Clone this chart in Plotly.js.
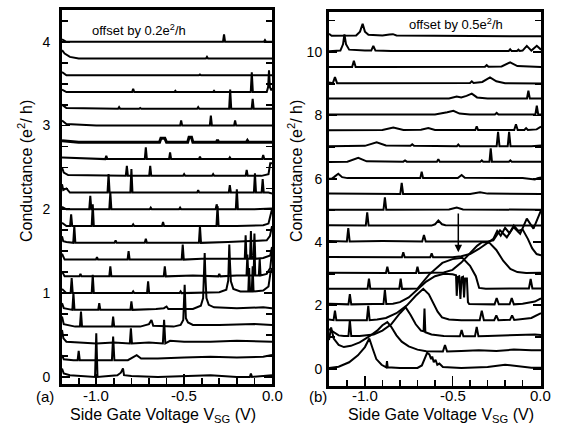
<!DOCTYPE html>
<html><head><meta charset="utf-8">
<script src="https://cdn.plot.ly/plotly-3.0.1.min.js"></script>
<style>html,body{margin:0;padding:0;background:#fff}#chart{width:562px;height:439px}</style>
</head><body><div id="chart"></div>
<script>
// Panel (a): conductance traces, offset by 0.2 e^2/h. Nodes: [V, G] or spike [V, G, height, halfwidth]
const offsetA = 0.2;
const a00 = [[-1.195,0.1],[-1.185,0.04],[-1.15,0.02],[-1.08,0.01],[-1.0,0.0,0.52,0.007],[-0.93,0.01],[-0.88,0.02],[-0.86,0.05],[-0.848,0.1],[-0.842,0.02],[-0.8,0.01],[-0.65,0.0],[-0.5,0.01],[-0.35,0.02],[-0.2,0.0],[-0.12,0.0,0.04],[-0.05,0.01],[0,0.02]];
const a01 = [[-1.195,0.06],[-1.185,0.01],[-1.13,0.0],[-1.10,0.0,0.11],[-1.02,0.0],[-0.904,0.0,0.28,0.007],[-0.82,0.0],[-0.79,0.03],[-0.77,0.06],[-0.745,0.02],[-0.65,0.02],[-0.5,0.03],[-0.35,0.04],[-0.2,0.03],[-0.05,0.04],[0,0.06]];
const a02 = [[-1.195,0.16],[-1.187,0.06],[-1.17,0.02],[-1.0,0.0],[-0.9,0.01],[-0.803,0.0,0.18],[-0.7,0.01],[-0.614,0.0,0.28,0.007],[-0.58,0.03],[-0.5,0.02],[-0.35,0.02],[-0.2,0.03],[0,0.02]];
const a03 = [[-1.195,0.12],[-1.185,0.03],[-1.12,0.0],[-1.087,0.0,0.18],[-1.0,0.0],[-0.904,0.0,0.12],[-0.75,0.0],[-0.7,0.03],[-0.686,0.08],[-0.676,0.01],[-0.56,0.0],[-0.52,0.02],[-0.505,0.08],[-0.497,0.5],[-0.49,0.1],[-0.478,0.05],[-0.45,0.02],[-0.3,0.02],[-0.1,0.03],[0,0.02]];
const a04 = [[-1.195,0.08],[-1.185,0.02],[-1.13,0.0,0.2],[-1.05,0.0],[-0.983,0.0,0.08],[-0.86,0.0],[-0.80,0.0,0.1],[-0.66,0.01],[-0.615,0.02],[-0.60,0.04],[-0.59,0.01],[-0.45,0.01],[-0.405,0.05],[-0.392,0.14],[-0.386,0.4],[-0.383,0.68],[-0.379,0.4],[-0.373,0.14],[-0.36,0.06],[-0.33,0.03],[-0.2,0.02],[-0.05,0.03],[0,0.02]];
const a05 = [[-1.195,0.05],[-1.17,0.0],[-1.14,0.0,0.18],[-1.06,0.0],[-1.02,0.0,0.22],[-0.85,0.0],[-0.79,0.0,0.02],[-0.705,0.0,0.14],[-0.6,0.0],[-0.52,0.0,0.02],[-0.3,0.01],[-0.26,0.04],[-0.249,0.15],[-0.245,0.35],[-0.243,0.58],[-0.239,0.35],[-0.234,0.14],[-0.22,0.05],[-0.18,0.02],[-0.13,0.02,0.28,0.005],[-0.11,0.02,0.3,0.005],[-0.05,0.03],[-0.02,0.08],[-0.008,0.25],[0,0.3]];
const a06 = [[-1.195,0.06],[-1.18,0.0],[-1.09,0.0,0.03],[-0.92,0.0,0.12],[-0.75,0.0],[-0.61,0.0,0.12],[-0.45,0.01],[-0.3,0.0,0.03],[-0.2,0.01],[-0.14,0.01,0.25,0.005],[-0.1,0.01,0.35,0.005],[-0.07,0.01,0.2,0.005],[-0.03,0.03],[-0.01,0.1],[0,0.3]];
const a07 = [[-1.195,0.07],[-1.18,0.0],[-1.05,0.0],[-0.996,0.0,0.03],[-0.9,0.0],[-0.816,0.0,0.1],[-0.6,0.0],[-0.508,0.0,0.18],[-0.4,0.01],[-0.25,0.01],[-0.15,0.01,0.28,0.005],[-0.12,0.01,0.33,0.005],[-0.1,0.01,0.3,0.005],[-0.05,0.02],[-0.01,0.05],[0,0.15]];
const a08 = [[-1.195,0.08],[-1.188,0.02],[-1.17,0.01],[-1.125,0.0,0.2],[-1.0,0.0],[-0.89,0.0,0.03],[-0.718,0.0,0.05],[-0.55,0.0],[-0.41,0.0,0.2],[-0.25,0.01],[-0.1,0.02],[-0.03,0.03],[-0.012,0.08],[0,0.2]];
const a09 = [[-1.195,0.04],[-1.17,0.0],[-1.143,0.0,0.14],[-1.02,0.0,0.26],[-0.9,0.0],[-0.79,0.0,0.02],[-0.62,0.0,0.05],[-0.45,0.0],[-0.31,0.0,0.24],[-0.2,0.0],[-0.05,0.01],[-0.02,0.03],[-0.008,0.12],[0,0.2]];
const a10 = [[-1.195,0.03],[-1.17,0.0],[-1.034,0.0,0.16],[-0.92,0.0,0.2],[-0.69,0.0,0.02],[-0.523,0.0,0.02],[-0.315,0.0,0.06],[-0.2,0.0,0.24],[-0.1,0.0],[0,0.01]];
const a11 = [[-1.195,0.1],[-1.188,0.03],[-1.17,0.05],[-1.15,0.0],[-0.93,0.0,0.22],[-0.80,0.0,0.28],[-0.6,0.0],[-0.42,0.0,0.03],[-0.24,0.0,0.09],[-0.097,0.0,0.23],[-0.053,0.0,0.16],[-0.02,0.0],[0,-0.01]];
const a12 = [[-1.195,0.1],[-1.185,0.04],[-1.16,0.01],[-0.826,0.0,0.12],[-0.693,0.0,0.12],[-0.5,0.0,0.02],[-0.335,0.0,0.02],[-0.144,0.0,0.07],[-0.06,0.0],[-0.02,0.02],[-0.01,0.15],[0,0.15]];
const a13 = [[-1.195,0.02],[-0.943,0.0,0.04],[-0.718,0.0,0.14],[-0.58,0.0,0.08],[-0.41,0.0,0.03],[-0.24,0.0,0.02],[-0.05,0.0,0.05],[0,0.0]];
const a14 = [[-1.195,0.02],[-1.1,0.0],[-0.64,0.0],[-0.632,0.05],[-0.61,0.05],[-0.6,0.0],[-0.48,0.0],[-0.472,0.06],[-0.458,0.06],[-0.45,0.0],[-0.31,0.0,0.03],[-0.14,0.0,0.02],[0,0.0]];
const a15 = [[-1.195,0.06],[-1.17,0.02],[-1.0,0.0],[-0.517,0.0,0.06],[-0.348,0.0,0.12],[-0.21,0.0,0.06],[0,0.0]];
const a16 = [[-1.195,0.05],[-1.17,0.01],[-0.87,0.0,0.02],[-0.75,0.0,0.01],[-0.42,0.0,0.02],[-0.238,0.0,0.23],[-0.11,0.0,0.12],[0,0.0]];
const a17 = [[-1.195,0.03],[-1.17,0.0],[-0.79,0.0,0.04],[-0.55,0.0,0.015],[-0.33,0.0,0.015],[-0.115,0.0,0.235],[-0.03,0.0],[-0.022,0.06],[-0.017,0.26],[-0.012,0.06],[-0.004,0.02],[0,0.05]];
const a18 = [[-1.195,0.04],[-1.17,0.0],[-0.41,0.0,0.01],[0,0.0]];
const a19 = [[-1.195,0.1],[-1.18,0.06],[-1.15,0.02],[-1.1,0.0],[-0.37,0.0,0.02],[0,0.0]];
const a20 = [[-1.195,0.03],[-1.17,0.0],[-0.273,0.0,0.09],[-0.04,0.0,0.02],[0,0.0]];
const panelA = [a00,a01,a02,a03,a04,a05,a06,a07,a08,a09,a10,a11,a12,a13,a14,a15,a16,a17,a18,a19,a20];

// Panel (b): offset by 0.5 e^2/h
const offsetB = 0.5;
const b00 = [[-1.205,0.02],[-1.15,0.06],[-1.09,0.2],[-1.04,0.42],[-1.0,0.68],[-0.975,0.95],[-0.955,0.62],[-0.935,0.3],[-0.905,0.12],[-0.882,0.06],[-0.874,0.04,0.2,0.004],[-0.8,0.02],[-0.7,0.02],[-0.675,0.1],[-0.66,0.3],[-0.645,0.5],[-0.632,0.45],[-0.622,0.3],[-0.616,0.38],[-0.607,0.2],[-0.597,0.28],[-0.587,0.12],[-0.575,0.16],[-0.555,0.05],[-0.45,0.02],[-0.3,0.05],[-0.2,0.12],[-0.12,0.08],[-0.05,0.03],[0.005,0.03]];
const b01 = [[-1.205,0.4],[-1.193,0.8],[-1.178,0.45],[-1.15,0.25],[-1.12,0.18],[-1.08,0.22],[-1.03,0.33],[-0.98,0.5],[-0.93,0.7],[-0.9,0.87],[-0.872,0.97],[-0.85,0.82],[-0.82,0.55],[-0.79,0.35],[-0.75,0.2],[-0.7,0.1],[-0.65,0.05],[-0.6,0.04],[-0.543,0.04,0.2,0.012],[-0.45,0.06],[-0.35,0.08],[-0.25,0.06],[-0.15,0.1],[-0.05,0.08],[0.005,0.08]];
const b02 = [[-1.205,0.25],[-1.19,0.2],[-1.15,0.05],[-1.12,0.03],[-1.086,0.03,0.5,0.008],[-1.03,0.03],[-0.95,0.08],[-0.9,0.2],[-0.85,0.4],[-0.8,0.75],[-0.768,0.94],[-0.74,0.7],[-0.71,0.4],[-0.68,0.2],[-0.665,0.18],[-0.66,0.9],[-0.655,0.15],[-0.62,0.08],[-0.55,0.03],[-0.448,0.02,0.2,0.01],[-0.362,0.02,0.3,0.01],[-0.3,0.03],[-0.15,0.05],[-0.03,0.08],[0.005,0.06]];
const b03 = [[-1.205,0.05],[-1.171,0.03,0.3,0.008],[-1.05,0.03],[-0.981,0.03,0.45,0.008],[-0.93,0.05],[-0.88,0.1],[-0.82,0.25],[-0.76,0.5],[-0.71,0.8],[-0.667,1.02],[-0.635,0.85],[-0.61,0.55],[-0.585,0.3],[-0.56,0.12],[-0.52,0.05],[-0.45,0.03],[-0.333,0.03,0.3,0.012],[-0.25,0.03,0.15,0.012],[-0.16,0.04,0.14,0.012],[-0.05,0.1],[0.005,0.25]];
const b04 = [[-1.205,0.05],[-1.086,0.03,0.32,0.008],[-0.95,0.04],[-0.886,0.04,0.45,0.008],[-0.84,0.05],[-0.8,0.1],[-0.75,0.25],[-0.7,0.5],[-0.65,0.75],[-0.6,0.92],[-0.55,1.0],[-0.5,0.98],[-0.48,0.95],[-0.476,0.3],[-0.47,0.9],[-0.462,0.92],[-0.455,0.2],[-0.448,0.88],[-0.44,0.9],[-0.434,0.25],[-0.428,0.85],[-0.418,0.85],[-0.412,0.1],[-0.405,0.04],[-0.3,0.03],[-0.248,0.03,0.2,0.012],[-0.162,0.03,0.2,0.012],[-0.1,0.05],[-0.03,0.12],[0.005,0.22]];
const b05 = [[-1.205,0.02],[-0.977,0.02,0.32,0.008],[-0.796,0.02,0.32,0.008],[-0.72,0.02],[-0.7,0.03],[-0.634,0.47],[-0.558,0.84],[-0.5,0.96],[-0.444,1.0],[-0.4,0.75],[-0.367,0.42],[-0.348,0.05],[-0.31,0.02],[-0.15,0.03],[-0.054,0.03,0.3,0.01],[0.005,0.03]];
const b06 = [[-1.205,0.03],[-0.872,0.02,0.2,0.008],[-0.70,0.02,0.2,0.008],[-0.58,0.02],[-0.55,0.04],[-0.5,0.12],[-0.45,0.35],[-0.4,0.65],[-0.36,0.88],[-0.33,1.0],[-0.29,0.98],[-0.25,0.75],[-0.21,0.4],[-0.17,0.15],[-0.13,0.05],[-0.08,0.02],[0.005,0.03]];
const b07 = [[-1.205,0.03],[-0.781,0.02,0.16,0.008],[-0.619,0.02,0.12,0.008],[-0.5,0.02],[-0.45,0.05],[-0.4,0.12],[-0.35,0.28],[-0.3,0.48],[-0.267,0.6],[-0.245,0.85],[-0.225,0.7],[-0.2,0.95],[-0.175,0.78],[-0.15,1.02],[-0.125,0.85],[-0.1,0.9],[-0.07,0.6],[-0.045,0.3],[-0.02,0.12],[0.005,0.08]];
const b08 = [[-1.205,0.03],[-1.095,0.02,0.42,0.008],[-0.9,0.03],[-0.663,0.02,0.2,0.01],[-0.45,0.02],[-0.3,0.02],[-0.267,0.05],[-0.229,0.37],[-0.19,0.15],[-0.152,0.47],[-0.114,0.26],[-0.076,0.74],[-0.038,0.42],[0.0,0.95],[0.005,1.0]];
const b09 = [[-1.205,0.03],[-0.987,0.02,0.42,0.008],[-0.62,0.02],[-0.6,0.06],[-0.581,0.18],[-0.56,0.06],[-0.54,0.03],[-0.3,0.02],[-0.1,0.03],[0.005,0.02]];
const b10 = [[-1.205,0.02],[-0.886,0.02,0.39,0.008],[-0.52,0.03],[-0.476,0.09],[-0.44,0.03],[0.005,0.02]];
const b11 = [[-1.205,0.03],[-0.79,0.02,0.35,0.008],[-0.4,0.02],[-0.343,0.07],[-0.3,0.03],[0.005,0.02]];
const b12 = [[-1.205,0.0],[-1.19,0.0],[-1.175,0.06],[-1.152,0.16],[-1.13,0.05],[-1.1,0.02],[-0.676,0.02,0.2,0.008],[-0.47,0.02],[-0.448,0.12],[-0.43,0.03],[-0.1,0.02],[-0.03,-0.02],[-0.015,0.02],[0.005,0.04]];
const b13 = [[-1.205,0.03],[-1.1,0.04],[-1.038,0.16],[-0.99,0.05],[-0.771,0.04,0.04,0.01],[-0.581,0.04,0.08,0.008],[-0.333,0.04,0.04,0.008],[-0.282,0.04,0.42,0.007],[-0.17,0.04,0.04,0.008],[0.005,0.04]];
const b14 = [[-1.205,0.03],[-1.0,0.04],[-0.933,0.15],[-0.88,0.05],[-0.73,0.04,0.05,0.01],[-0.467,0.03,0.05,0.008],[-0.24,0.03,0.45,0.008],[-0.177,0.03,0.45,0.008],[-0.05,0.03],[0.005,0.05]];
const b15 = [[-1.205,0.03],[-0.9,0.04],[-0.838,0.12],[-0.78,0.04],[-0.68,0.05],[-0.638,0.1],[-0.6,0.04],[-0.362,0.04,0.12,0.008],[-0.138,0.04,0.18,0.01],[-0.08,0.04,0.06,0.01],[-0.02,0.06],[0.005,0.15]];
const b16 = [[-1.205,0.03],[-0.6,0.03],[-0.53,0.1],[-0.495,0.15],[-0.46,0.06],[-0.4,0.03],[-0.248,0.03,0.05,0.01],[-0.019,0.03,0.28,0.008],[0.005,0.03]];
const b17 = [[-1.205,0.04],[-0.52,0.04],[-0.476,0.1],[-0.45,0.07],[-0.42,0.12],[-0.39,0.19],[-0.36,0.07],[-0.3,0.04],[-0.067,0.04,0.24,0.008],[0.005,0.04]];
const b18 = [[-1.205,0.04],[-1.171,0.02,0.19,0.012],[-1.1,0.02],[-0.39,0.03,0.05,0.01],[-0.33,0.06],[-0.286,0.2],[-0.25,0.08],[-0.2,0.02],[0.005,0.01]];
const b19 = [[-1.205,0.03],[-1.063,0.03,0.2,0.01],[-0.9,0.03],[-0.305,0.04,0.05,0.01],[-0.22,0.05],[-0.171,0.18],[-0.13,0.06],[-0.08,0.04],[0.005,0.03]];
const b20 = [[-1.205,0.03],[-1.14,0.05],[-1.125,0.25],[-1.117,0.56],[-1.108,0.25],[-1.09,0.08],[-1.0,0.05],[-0.952,0.05,0.15,0.012],[-0.85,0.04],[-0.171,0.04,0.05,0.008],[-0.124,0.04,0.04,0.008],[-0.1,0.05],[-0.076,0.2],[-0.05,0.05],[-0.019,0.2],[0.0,0.08],[0.005,0.08]];
const b21 = [[-1.205,0.08],[-1.19,0.02],[-1.05,0.03],[-1.028,0.15],[-1.013,0.4],[-1.0,0.15],[-0.98,0.05],[-0.9,0.03],[-0.86,0.06],[-0.84,0.07],[-0.82,0.03],[0.005,0.0]];
const panelB = [b00,b01,b02,b03,b04,b05,b06,b07,b08,b09,b10,b11,b12,b13,b14,b15,b16,b17,b18,b19,b20,b21];

const xTickVals = [-1.0,-0.5,0.0];
const xTickText = ['-1.0','-0.5','0.0'];

function expand(nodes, off, w0){
  const xs=[], ys=[];
  nodes.forEach(n=>{
    if(n.length===2){xs.push(n[0]); ys.push(n[1]+off);}
    else{const w=n[3]||w0; xs.push(n[0]-w,n[0],n[0]+w); ys.push(n[1]+off,n[1]+n[2]+off,n[1]+off);}
  });
  return {xs, ys};
}
const data=[];
panelA.forEach((tr,i)=>{const e=expand(tr,offsetA*i,0.006);
  data.push({x:e.xs,y:e.ys,xaxis:'x',yaxis:'y',mode:'lines',hoverinfo:'skip',line:{color:'#000',width:i===14?3:2}});});
panelB.forEach((tr,i)=>{const e=expand(tr,offsetB*i,0.008);
  data.push({x:e.xs,y:e.ys,xaxis:'x2',yaxis:'y2',mode:'lines',hoverinfo:'skip',line:{color:'#000',width:2}});});

const W=562,H=439;
const FONT="Liberation Sans, Arial, Helvetica, sans-serif";
function xax(dom,rng,anchor){return {domain:dom,range:rng,anchor:anchor,showline:true,linewidth:3,linecolor:'#000',mirror:true,
  ticks:'inside',ticklen:10,tickwidth:1.8,tickcolor:'#000',tickvals:xTickVals,showticklabels:false,
  minor:{dtick:0.1,tick0:0,ticks:'inside',ticklen:6,tickwidth:1.8,tickcolor:'#000'},
  showgrid:false,zeroline:false,fixedrange:true};}
function yax(dom,rng,anchor,dt,mdt,st){return {domain:dom,range:rng,anchor:anchor,showline:true,linewidth:3,linecolor:'#000',mirror:'ticks',
  ticks:'inside',ticklen:8,tickwidth:1.8,tickcolor:'#000',dtick:dt,tick0:0,
  minor:{dtick:mdt,tick0:0,ticks:'inside',ticklen:6,tickwidth:1.8,tickcolor:'#000'},
  showgrid:false,zeroline:false,tickfont:{size:14,color:'#000'},ticklabelstandoff:st,fixedrange:true};}

const ann=[
    {xref:'paper',yref:'paper',x:139/W,y:1-30/H,text:'offset by 0.2e<sup>2</sup>/h',showarrow:false,font:{size:13},xanchor:'center',yanchor:'middle'},
    {xref:'paper',yref:'paper',x:456/W,y:1-24/H,text:'offset by 0.5e<sup>2</sup>/h',showarrow:false,font:{size:13},xanchor:'center',yanchor:'middle'},
    {xref:'paper',yref:'paper',x:25/W,y:1-171/H,text:'Conductance (e<sup>2</sup>/ h)',textangle:-90,showarrow:false,font:{size:16},xanchor:'center',yanchor:'middle'},
    {xref:'paper',yref:'paper',x:295/W,y:1-171/H,text:'Conductance (e<sup>2</sup>/ h)',textangle:-90,showarrow:false,font:{size:16},xanchor:'center',yanchor:'middle'},
    {xref:'paper',yref:'paper',x:163/W,y:1-415/H,text:'Side Gate Voltage V<sub>SG</sub> (V)',showarrow:false,font:{size:16},xanchor:'center',yanchor:'middle'},
    {xref:'paper',yref:'paper',x:441/W,y:1-415/H,text:'Side Gate Voltage V<sub>SG</sub> (V)',showarrow:false,font:{size:16},xanchor:'center',yanchor:'middle'},
    {xref:'paper',yref:'paper',x:45/W,y:1-396/H,text:'(a)',showarrow:false,font:{size:15},xanchor:'center',yanchor:'middle'},
    {xref:'paper',yref:'paper',x:318/W,y:1-396/H,text:'(b)',showarrow:false,font:{size:15},xanchor:'center',yanchor:'middle'},
    {xref:'x2',yref:'y2',axref:'x2',ayref:'y2',x:-0.467,y:3.68,ax:-0.467,ay:4.95,text:'',showarrow:true,arrowhead:2,arrowsize:1,arrowwidth:1.5,arrowcolor:'#000'}
];
['x','x2'].forEach(xr=>{xTickVals.forEach((v,j)=>{
  ann.push({xref:xr,yref:'paper',x:v,y:1-395/H,text:xTickText[j],showarrow:false,font:{size:15},xanchor:'center',yanchor:'middle'});
});});

const layout={width:W,height:H,margin:{l:0,r:0,t:0,b:0},paper_bgcolor:'#fff',plot_bgcolor:'#fff',showlegend:false,
  font:{family:FONT,color:'#000'},
  xaxis:xax([62/W,272/W],[-1.195,0.0],'y'),
  yaxis:yax([1-384/H,1-10/H],[-0.085,4.38],'x',1,0.25,6),
  xaxis2:xax([329/W,541/W],[-1.205,0.005],'y2'),
  yaxis2:yax([1-386/H,1-12/H],[-0.55,11.27],'x2',2,1,1),
  annotations:ann};
Plotly.newPlot('chart',data,layout,{staticPlot:true,displayModeBar:false});
</script></body></html>
